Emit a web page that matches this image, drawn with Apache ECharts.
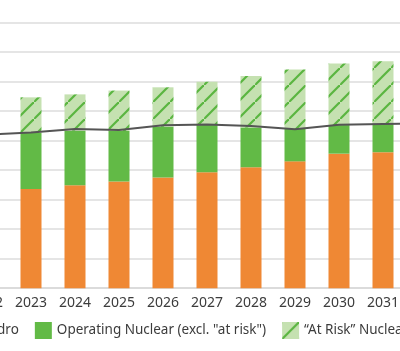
<!DOCTYPE html>
<html>
<head>
<meta charset="utf-8">
<script src="https://cdn.jsdelivr.net/npm/echarts@6/dist/echarts.min.js"></script>
<style>
html, body { margin: 0; padding: 0; background: #fff; }
#chart { width: 400px; height: 351px; }
</style>
</head>
<body>
<div id="chart"></div>
<script>
var years = ['2022', '2023', '2024', '2025', '2026', '2027', '2028', '2029', '2030', '2031', '2032'];
var hydroRenew = [32.3, 33.6, 34.9, 36.2, 37.5, 39.3, 41.0, 43.0, 45.6, 46.1, 47.0];
var operatingNuclear = [19.5, 19.1, 18.5, 17.1, 17.2, 16.0, 13.5, 11.0, 9.7, 9.6, 9.4];
var atRiskNuclear = [12.0, 12.0, 12.3, 13.7, 13.4, 14.7, 17.4, 20.1, 20.9, 21.2, 21.5];
var targetLine = [52.0, 52.8, 54.0, 53.6, 55.2, 55.5, 55.0, 53.9, 55.4, 55.7, 55.9];
var yTicks = [0, 10, 20, 30, 40, 50, 60, 70, 80, 90];

var FONT = 'Noto Sans';
var orange = '#EF8834';
var green = '#62BA46';

// hatch pattern for "at risk" nuclear
function hatch() {
    var c = document.createElement('canvas');
    c.width = 17; c.height = 17;
    var ctx = c.getContext('2d');
    ctx.fillStyle = '#C5E1B1';
    ctx.fillRect(0, 0, 17, 17);
    ctx.strokeStyle = '#5AB540';
    ctx.lineWidth = 2.2;
    ctx.beginPath();
    ctx.moveTo(-2, 19); ctx.lineTo(19, -2);
    ctx.stroke();
    return c;
}

var myChart = echarts.init(document.getElementById('chart'));

var option = {
    animation: false,
    textStyle: { fontFamily: FONT },
    grid: {
        left: -35,
        right: -49,
        top: 22.7,
        bottom: 62.8,
        outerBoundsMode: 'none'
    },
    legend: {
        left: -155,
        bottom: 7,
        width: 900,
        itemWidth: 17,
        itemHeight: 17,
        itemGap: 16,
        icon: 'rect',
        textStyle: { fontFamily: FONT, fontSize: 13.5, color: '#3c3c3c' },
        data: ['Renewables incl. Hydro', 'Operating Nuclear (excl. "at risk")', '\u201cAt Risk\u201d Nuclear', 'Clean Energy Target']
    },
    xAxis: {
        type: 'category',
        data: years,
        axisTick: { show: false },
        axisLine: { lineStyle: { color: '#d9d9d9', width: 1.5 } },
        axisLabel: { color: '#3c3c3c', fontSize: 14, margin: 8, interval: 0, fontFamily: FONT }
    },
    yAxis: {
        type: 'value',
        min: yTicks[0],
        max: yTicks[yTicks.length - 1],
        interval: 10,
        axisLabel: { show: false },
        splitLine: { lineStyle: { color: '#dcdcdc', width: 1.5 } }
    },
    series: [
        {
            name: 'Renewables incl. Hydro',
            type: 'bar',
            stack: 'clean',
            barWidth: 21,
            itemStyle: { color: orange },
            data: hydroRenew
        },
        {
            name: 'Operating Nuclear (excl. "at risk")',
            type: 'bar',
            stack: 'clean',
            itemStyle: { color: green },
            data: operatingNuclear
        },
        {
            name: '\u201cAt Risk\u201d Nuclear',
            type: 'bar',
            stack: 'clean',
            itemStyle: { color: { image: hatch(), repeat: 'repeat' } },
            data: atRiskNuclear
        },
        {
            name: 'Clean Energy Target',
            type: 'line',
            symbol: 'none',
            z: 5,
            lineStyle: { color: '#555555', width: 2 },
            itemStyle: { color: '#555555' },
            data: targetLine
        }
    ]
};

myChart.setOption(option);
</script>
</body>
</html>
